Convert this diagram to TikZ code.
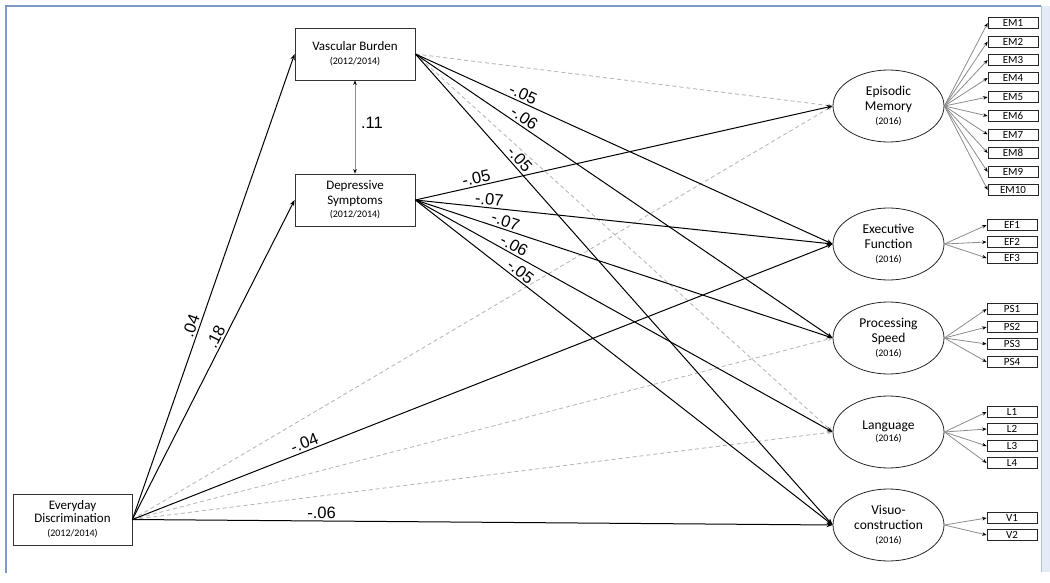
\documentclass[tikz,border=0pt]{standalone}
\usepackage{fontspec}
\setmainfont{Carlito}
\newfontfamily\arialf{Liberation Sans}
\usetikzlibrary{arrows.meta,shapes.geometric}
\definecolor{framebl}{HTML}{7C9CC4}
\definecolor{framelt}{HTML}{E4EBF4}
\definecolor{dashg}{HTML}{B8B8B8}
\definecolor{loadg}{HTML}{8C8C8C}
\newcommand{\yr}[1]{{\fontsize{10}{12}\selectfont #1}}
\tikzset{
  obsbox/.style={draw=black!80, line width=0.8pt, minimum width=120pt, minimum height=52pt,
    inner sep=0pt, align=center, font=\fontsize{13}{15}\selectfont},
  latent/.style={ellipse, draw=black!85, line width=0.8pt, minimum width=111pt, minimum height=72pt,
    inner sep=0pt, align=center, font=\fontsize{13.5}{15.5}\selectfont},
  indbox/.style={draw=black!85, line width=0.7pt, minimum width=50pt, minimum height=11pt,
    inner sep=0pt, font=\fontsize{11}{11}\selectfont},
  sig/.style={draw=black, line width=1pt, -{Stealth[length=6pt,width=4.5pt]}},
  nsig/.style={draw=dashg, line width=0.9pt, dash pattern=on 4pt off 3pt, -{Stealth[length=5pt,width=4pt]}},
  loadarr/.style={draw=loadg, line width=0.8pt, -{Stealth[length=4.5pt,width=3.5pt,color=black]}},
  coef/.style={font=\arialf\fontsize{16.5}{16.5}\selectfont, sloped, above, inner sep=2pt},
}
\begin{document}
\begin{tikzpicture}[x=1pt,y=-1pt]
\useasboundingbox (0,0) rectangle (1050,583);
% frame
\fill[framelt] (1041,6) rectangle (1050,572);
\draw[color=framebl!60, line width=0.8pt] (1041,6) -- (1041,572);
\draw[framebl, line width=1.6pt] (6,573) -- (6,6) -- (1041,6);

% observed boxes
\node[obsbox] (VB) at (355,54) {Vascular Burden\\[-1pt]\yr{(2012/2014)}};
\node[obsbox] (DS) at (355,200) {Depressive\\[0pt]Symptoms\\[-2pt]\yr{(2012/2014)}};
\node[obsbox, minimum width=119pt, minimum height=51pt] (ED) at (72.5,519.5) {Everyday\\[-2pt]Discrimination\\[-1pt]\yr{(2012/2014)}};

% latent variables
\node[latent] (EM) at (888.5,106) {Episodic\\Memory\\[-2pt]\yr{(2016)}};
\node[latent] (EF) at (888.5,244) {Executive\\Function\\[-2pt]\yr{(2016)}};
\node[latent] (PS) at (888.5,338) {Processing\\Speed\\[-2pt]\yr{(2016)}};
\node[latent] (LA) at (888.5,432) {Language\\[-3pt]\yr{(2016)}};
\node[latent] (VC) at (888.5,525) {Visuo-\\construction\\[-2pt]\yr{(2016)}};

% indicators
\foreach \n/\y in {1/23,2/41.5,3/60,4/78,5/97,6/116,7/134.5,8/153,9/172,10/190}{
  \node[indbox] (EM\n) at (1013,\y) {EM\n};
  \draw[loadarr] (EM.east) -- (EM\n.west);
}
\foreach \n/\y in {1/225,2/242,3/258}{
  \node[indbox] (EF\n) at (1012,\y) {EF\n};
  \draw[loadarr] (EF.east) -- (EF\n.west);
}
\foreach \n/\y in {1/309,2/327,3/344,4/362}{
  \node[indbox] (PS\n) at (1012,\y) {PS\n};
  \draw[loadarr] (PS.east) -- (PS\n.west);
}
\foreach \n/\y in {1/412,2/429,3/446,4/463}{
  \node[indbox] (L\n) at (1012,\y) {L\n};
  \draw[loadarr] (LA.east) -- (L\n.west);
}
\foreach \n/\y in {1/518,2/535}{
  \node[indbox] (V\n) at (1012,\y) {V\n};
  \draw[loadarr] (VC.east) -- (V\n.west);
}

% non-significant paths
\draw[nsig] (VB.east) -- (EM.west);
\draw[nsig] (VB.east) -- (LA.west);
\draw[nsig] (ED.east) -- (EM.west);
\draw[nsig] (ED.east) -- (PS.west);
\draw[nsig] (ED.east) -- (LA.west);

% covariance
\draw[draw=loadg, line width=0.8pt, {Stealth[length=4.5pt,width=3.5pt,color=black]}-{Stealth[length=4.5pt,width=3.5pt,color=black]}] (VB.south) -- (DS.north);
\node[font=\arialf\fontsize{16.5}{16.5}\selectfont] (c11) at (372,123) {.11};

% significant paths
\draw[sig] (ED.east) -- node[coef,pos=0.41]{.04} (VB.west);
\draw[sig] (ED.east) -- node[coef,pos=0.56]{.18} (DS.west);
\draw[sig] (ED.east) -- node[coef,pos=0.25]{-.04} (EF.west);
\draw[sig] (ED.east) -- node[coef,pos=0.27]{-.06} (VC.west);

\draw[sig] (VB.east) -- node[coef,pos=0.25]{-.05} (EF.west);
\draw[sig] (VB.east) -- node[coef,pos=0.25]{-.06} (PS.west);
\draw[sig] (VB.east) -- node[coef,pos=0.235]{-.05} (VC.west);

\draw[sig] (DS.east) -- node[coef,pos=0.15]{-.05} (EM.west);
\draw[sig] (DS.east) -- node[coef,pos=0.175]{-.07} (EF.west);
\draw[sig] (DS.east) -- node[coef,pos=0.21]{-.07} (PS.west);
\draw[sig] (DS.east) -- node[coef,pos=0.227]{-.06} (LA.west);
\draw[sig] (DS.east) -- node[coef,pos=0.24]{-.05} (VC.west);
\end{tikzpicture}
\end{document}
